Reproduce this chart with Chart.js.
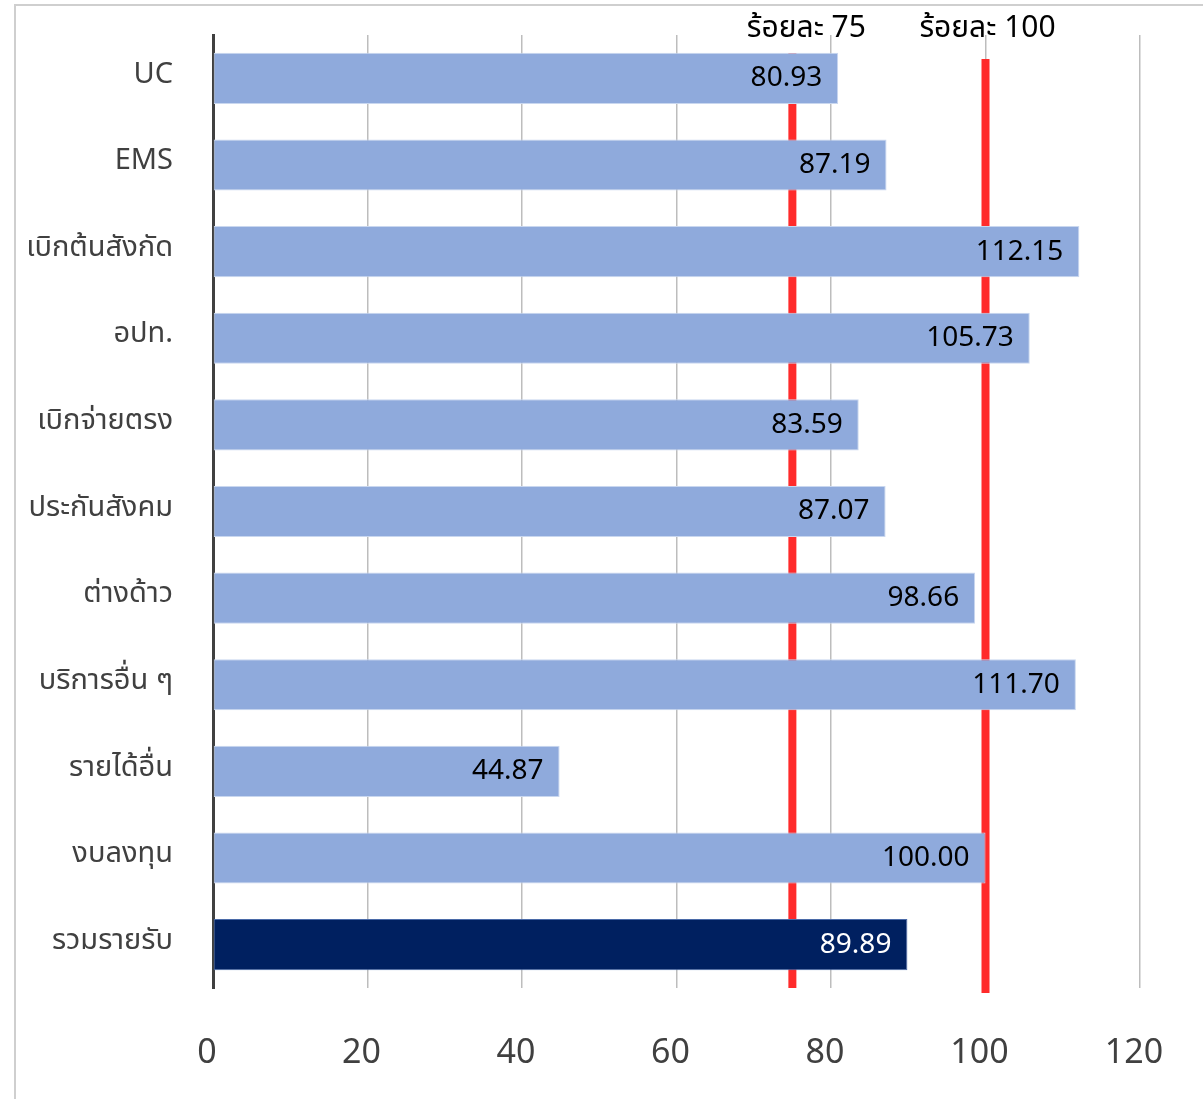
<!DOCTYPE html>
<html>
<head>
<meta charset="utf-8">
<script src="https://cdn.jsdelivr.net/npm/chart.js@4.4.1/dist/chart.umd.min.js"></script>
<style>
    html, body { margin: 0; padding: 0; background: #fff; overflow: hidden; }
    #frame {
        position: absolute; left: 14px; top: 4px;
        width: 1300px; height: 1200px;
        border: 2px solid #cfcfcf;
    }
    #wrap { position: absolute; left: 0; top: 0; width: 1203px; height: 1099px; }
</style>
</head>
<body>
<div id="frame"></div>
<div id="wrap"><canvas id="chart" width="1203" height="1099"></canvas></div>
<script>
// Dados do gráfico
const categorias = ['UC', 'EMS', 'เบิกต้นสังกัด', 'อปท.', 'เบิกจ่ายตรง', 'ประกันสังคม',
    'ต่างด้าว', 'บริการอื่น ๆ', 'รายได้อื่น', 'งบลงทุน', 'รวมรายรับ'];
const valores = [80.93, 87.19, 112.15, 105.73, 83.59, 87.07, 98.66, 111.70, 44.87, 100.00, 89.89];
const metas = [75, 100];
const rotulosMetas = ['ร้อยละ 75', 'ร้อยละ 100'];
const ticksX = [0, 20, 40, 60, 80, 100, 120];

const FONTE = '"Noto Sans", "Noto Sans Thai", Tahoma, sans-serif';
const ultimo = valores.length - 1;

/**
 * Zera o padding automático das escalas (layout fixo)
 */
function semPadding(scale) {
    scale.paddingTop = 0;
    scale.paddingBottom = 0;
    scale.paddingLeft = 0;
    scale.paddingRight = 0;
}

/**
 * Linhas vermelhas de meta (75 e 100), desenhadas atrás das barras
 */
const linhasMeta = {
    id: 'linhasMeta',
    beforeDatasetsDraw(chart) {
        const { ctx, chartArea, scales } = chart;
        ctx.save();
        ctx.strokeStyle = '#ff2b2b';
        ctx.lineWidth = 8;
        metas.forEach(function(m, i) {
            const x = scales.x.getPixelForValue(m);
            ctx.beginPath();
            ctx.moveTo(x, chartArea.top + 18 + i * 6);
            ctx.lineTo(x, chartArea.bottom + i * 5);
            ctx.stroke();
        });
        ctx.restore();
    },
    afterDraw(chart) {
        const { ctx, scales } = chart;
        ctx.save();
        ctx.fillStyle = '#000';
        ctx.font = '30px ' + FONTE;
        ctx.textAlign = 'center';
        ctx.textBaseline = 'middle';
        metas.forEach(function(m, i) {
            const x = scales.x.getPixelForValue(m);
            ctx.fillText(rotulosMetas[i], x + (i === 0 ? 14 : 2), 28);
        });
        ctx.restore();
    }
};

/**
 * Rótulos de valor dentro da ponta de cada barra
 */
const rotulosBarras = {
    id: 'rotulosBarras',
    afterDatasetsDraw(chart) {
        const { ctx } = chart;
        const meta = chart.getDatasetMeta(0);
        ctx.save();
        ctx.font = '28px ' + FONTE;
        ctx.textAlign = 'right';
        ctx.textBaseline = 'middle';
        meta.data.forEach(function(bar, i) {
            ctx.fillStyle = i === ultimo ? '#ffffff' : '#000000';
            ctx.fillText(valores[i].toFixed(2), bar.x - 16, bar.y);
        });
        ctx.restore();
    }
};

new Chart(document.getElementById('chart'), {
    type: 'bar',
    data: {
        labels: categorias,
        datasets: [{
            data: valores,
            backgroundColor: valores.map((v, i) => i === ultimo ? '#002060' : '#8faadc'),
            borderColor: valores.map((v, i) => i === ultimo ? '#4a6aa8' : '#c9d7ef'),
            borderWidth: 1,
            borderSkipped: false,
            barPercentage: 0.59,
            categoryPercentage: 1
        }]
    },
    plugins: [linhasMeta, rotulosBarras],
    options: {
        indexAxis: 'y',
        responsive: false,
        animation: false,
        layout: { padding: { left: 0, right: 63, top: 35, bottom: 0 } },
        plugins: {
            legend: { display: false },
            tooltip: { enabled: false }
        },
        scales: {
            x: {
                min: 0,
                max: 120,
                afterBuildTicks(scale) {
                    scale.ticks = ticksX.map(v => ({ value: v }));
                },
                afterFit(scale) {
                    scale.height = 111;
                    semPadding(scale);
                },
                grid: { color: '#bdbdbd', lineWidth: 1.5, drawTicks: false },
                border: { display: false },
                ticks: {
                    padding: 45,
                    labelOffset: -6,
                    color: '#404040',
                    font: { family: FONTE, size: 34 }
                }
            },
            y: {
                afterFit(scale) {
                    scale.width = 213;
                    semPadding(scale);
                },
                grid: { display: false, drawTicks: false },
                border: { display: true, color: '#404040', width: 3 },
                ticks: {
                    padding: 40,
                    labelOffset: -4,
                    color: '#404040',
                    font: { family: FONTE, size: 29 }
                }
            }
        }
    }
});
</script>
</body>
</html>
